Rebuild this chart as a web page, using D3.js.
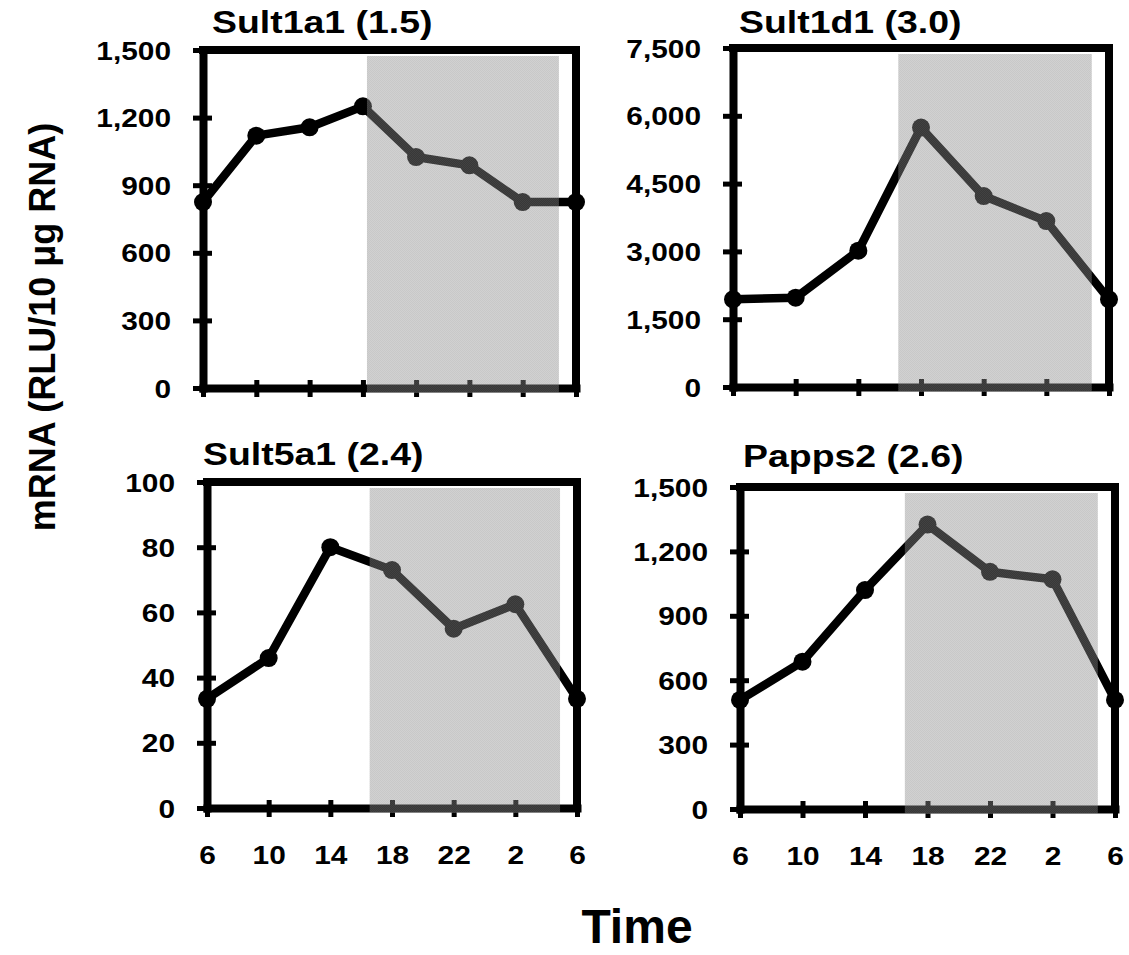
<!DOCTYPE html>
<html>
<head>
<meta charset="utf-8">
<script src="https://cdn.jsdelivr.net/npm/d3@7"></script>
<style>
  html, body { margin: 0; padding: 0; background: #fff; }
  svg { display: block; }
  text { font-family: "Liberation Sans", Arial, Helvetica, sans-serif; font-weight: bold; fill: #000; }
</style>
</head>
<body>
<svg id="chart" width="1129" height="955"></svg>
<script>
// ---------- data ----------
const titles = ["Sult1a1 (1.5)", "Sult1d1 (3.0)", "Sult5a1 (2.4)", "Papps2 (2.6)"];
const sult1a1Times = [6, 9.43, 12.86, 16.29, 19.71, 23.14, 26.57, 30];
const times7 = [6, 10, 14, 18, 22, 26, 30];
const sult1a1Values = [825, 1120, 1157, 1250, 1025, 988, 825, 825];
const sult1d1Values = [1940, 1975, 3015, 5740, 4225, 3670, 1940];
const sult5a1Values = [33.5, 46, 80, 73, 55, 62.5, 33.5];
const papps2Values = [508, 686, 1020, 1325, 1105, 1070, 508];
const yMaxes = [1500, 7500, 100, 1500];
const yTickValues = [
  [0, 300, 600, 900, 1200, 1500],
  [0, 1500, 3000, 4500, 6000, 7500],
  [0, 20, 40, 60, 80, 100],
  [0, 300, 600, 900, 1200, 1500]
];
const xTickLabels = ["6", "10", "14", "18", "22", "2", "6"];
const darkPeriod = [16.55, 28.9];
const yAxisTitle = "mRNA (RLU/10 \u03bcg RNA)";
const xAxisTitle = "Time";

// ---------- layout ----------
const panelBoxes = [
  { x0: 203, x1: 576, y0: 50, y1: 388, tx: 212, ty: 33, labels: false },
  { x0: 733, x1: 1109, y0: 48, y1: 387, tx: 739, ty: 33, labels: false },
  { x0: 207, x1: 577, y0: 482, y1: 808, tx: 203, ty: 465, labels: true },
  { x0: 740, x1: 1115, y0: 487, y1: 809, tx: 743, ty: 467, labels: true }
];
const panelTimes = [sult1a1Times, times7, times7, times7];
const panelValues = [sult1a1Values, sult1d1Values, sult5a1Values, papps2Values];

const STRETCH = 1.17;
const FRAME_W = 8;
const svg = d3.select("#chart");
const fmt = d3.format(",");

// dithered shade pattern
const defs = svg.append("defs");
const pat = defs.append("pattern").attr("id", "dither")
  .attr("patternUnits", "userSpaceOnUse").attr("width", 2).attr("height", 2);
pat.append("rect").attr("width", 2).attr("height", 2).attr("fill", "#8c8c8c").attr("fill-opacity", 0.40);
pat.append("rect").attr("width", 1).attr("height", 1).attr("fill", "#8c8c8c").attr("fill-opacity", 0.12);
pat.append("rect").attr("x", 1).attr("y", 1).attr("width", 1).attr("height", 1).attr("fill", "#8c8c8c").attr("fill-opacity", 0.12);

panelBoxes.forEach((b, i) => {
  const times = panelTimes[i];
  const vals = panelValues[i];
  const x = d3.scaleLinear().domain([6, 30]).range([b.x0, b.x1]);
  const y = d3.scaleLinear().domain([0, yMaxes[i]]).range([b.y1, b.y0]);
  const g = svg.append("g");

  // frame: top + right
  g.append("line").attr("x1", b.x0).attr("x2", b.x1).attr("y1", y(yMaxes[i])).attr("y2", y(yMaxes[i]))
    .attr("stroke", "#000").attr("stroke-width", FRAME_W).attr("stroke-linecap", "square");
  g.append("line").attr("x1", b.x1).attr("x2", b.x1).attr("y1", y(yMaxes[i])).attr("y2", y(0))
    .attr("stroke", "#000").attr("stroke-width", FRAME_W).attr("stroke-linecap", "square");

  // line + points
  const pts = times.map((t, k) => [t, vals[k]]);
  g.append("path").datum(pts)
    .attr("fill", "none").attr("stroke", "#000").attr("stroke-width", 8.5).attr("stroke-linejoin", "round")
    .attr("d", d3.line().x(d => x(d[0])).y(d => y(d[1])));
  g.selectAll("circle.pt").data(pts).join("circle").attr("class", "pt")
    .attr("cx", d => x(d[0])).attr("cy", d => y(d[1])).attr("r", 9).attr("fill", "#000");

  // y axis
  const ya = g.append("g").attr("transform", `translate(${b.x0},0)`)
    .call(d3.axisLeft(y).tickValues(yTickValues[i]).tickFormat(fmt).tickSizeInner(10).tickSizeOuter(0).tickPadding(0));
  ya.select(".domain").attr("stroke-width", FRAME_W).attr("stroke-linecap", "square").attr("stroke", "#000");
  ya.selectAll(".tick line").attr("x1", 9).attr("stroke-width", 5).attr("stroke", "#000");
  ya.selectAll(".tick text")
    .attr("x", -32 / STRETCH).attr("dy", "0.36em")
    .attr("transform", `scale(${STRETCH},1)`)
    .style("font-size", "25.5px").attr("font-family", null).attr("fill", "#000");

  // x axis
  const xa = g.append("g").attr("transform", `translate(0,${b.y1})`)
    .call(d3.axisBottom(x).tickValues(times)
      .tickFormat((d, k) => b.labels ? xTickLabels[k] : "")
      .tickSizeInner(9).tickSizeOuter(0).tickPadding(0));
  xa.select(".domain").attr("stroke-width", FRAME_W).attr("stroke-linecap", "square").attr("stroke", "#000");
  xa.selectAll(".tick line").attr("y1", -8).attr("stroke-width", 5).attr("stroke", "#000");
  xa.selectAll(".tick text")
    .attr("y", 56).attr("dy", 0)
    .attr("transform", `scale(${STRETCH},1)`)
    .style("font-size", "25.5px").attr("font-family", null).attr("fill", "#000");

  // dark period shading (drawn over)
  g.append("rect")
    .attr("x", x(darkPeriod[0])).attr("width", x(darkPeriod[1]) - x(darkPeriod[0]))
    .attr("y", b.y0 + 6).attr("height", (b.y1 + 5) - (b.y0 + 6))
    .attr("fill", "url(#dither)");

  // title
  g.append("text")
    .attr("transform", `translate(${b.tx},${b.ty}) scale(${STRETCH},1)`)
    .style("font-size", "32px")
    .text(titles[i]);
});

// axis titles
svg.append("text")
  .attr("transform", "translate(55,327) rotate(-90)")
  .attr("text-anchor", "middle")
  .style("font-size", "36px")
  .text(yAxisTitle);

svg.append("text")
  .attr("x", 637).attr("y", 943)
  .attr("text-anchor", "middle")
  .style("font-size", "48px")
  .text(xAxisTitle);
</script>
</body>
</html>
